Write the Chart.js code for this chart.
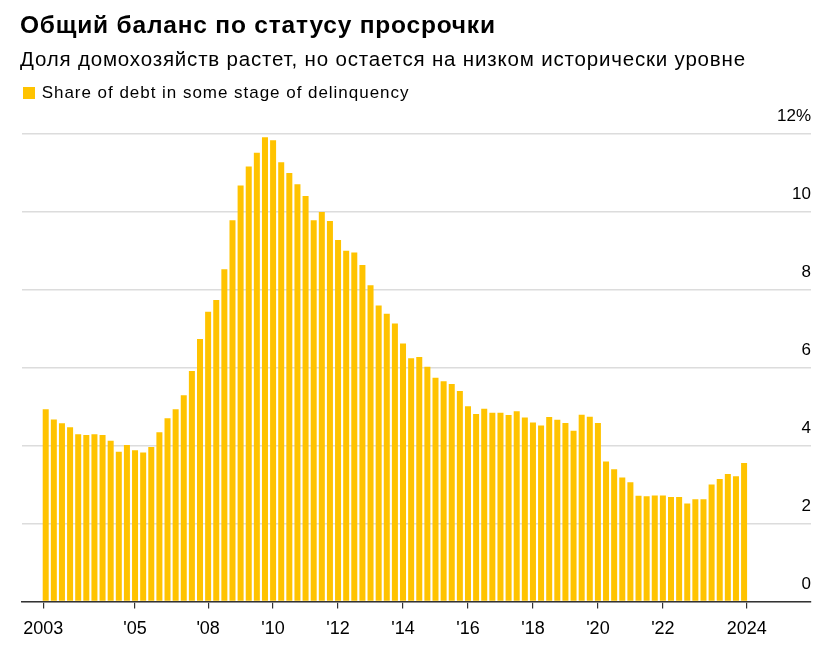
<!DOCTYPE html>
<html>
<head>
<meta charset="utf-8">
<script src="https://cdn.jsdelivr.net/npm/chart.js@4.4.1/dist/chart.umd.min.js"></script>
<style>
  body { margin: 0; background: #fff; }
  #wrap { position: relative; width: 836px; height: 649px; font-family: "Liberation Sans", Arial, sans-serif; color: #000; }
  #chart { position: absolute; left: 0; top: 0; }
  .title { position: absolute; left: 20px; top: 12.5px; font-size: 24.5px; line-height: 24px; font-weight: bold; letter-spacing: 0.8px; white-space: nowrap; }
  .subtitle { position: absolute; left: 20px; top: 48.8px; font-size: 20.5px; line-height: 20px; letter-spacing: 0.82px; white-space: nowrap; }
  #legend { position: absolute; left: 22.7px; top: 83.9px; font-size: 17px; line-height: 17px; letter-spacing: 0.97px; white-space: nowrap; }
  #legend .box { display: inline-block; width: 12px; height: 12px; margin-right: 7px; vertical-align: -1px; }
</style>
</head>
<body>
<div id="wrap">
  <canvas id="chart" width="836" height="649"></canvas>
  <div class="title">Общий баланс по статусу просрочки</div>
  <div class="subtitle">Доля домохозяйств растет, но остается на низком исторически уровне</div>
  <div id="legend"></div>
</div>
<script>
// квартальные данные, 2003 Q1 - 2024 Q3
const startYear = 2003;
const seriesName = "Share of debt in some stage of delinquency";
const delinquency = [
  4.93, 4.67, 4.57, 4.47, 4.29, 4.27, 4.29, 4.27, 4.12, 3.84, 4.01, 3.88, 3.82, 3.96, 4.34, 4.70, 4.93, 5.29,
  5.91, 6.73, 7.43, 7.73, 8.52, 9.78, 10.67, 11.16, 11.51, 11.91, 11.83, 11.27, 10.99, 10.70, 10.40, 9.78,
  9.99, 9.76, 9.27, 9.00, 8.95, 8.63, 8.11, 7.59,
  7.38, 7.13, 6.62, 6.24, 6.27, 6.02, 5.74, 5.65, 5.58, 5.40, 5.01, 4.81, 4.94, 4.84, 4.84, 4.78, 4.88,
  4.72, 4.59, 4.51, 4.73, 4.66, 4.58, 4.38, 4.79, 4.74, 4.58,
  3.59, 3.39, 3.18, 3.06, 2.71, 2.70, 2.72, 2.72, 2.68, 2.68, 2.51, 2.62, 2.62, 3.00, 3.14, 3.27, 3.21, 3.55
];
// подписи оси x (положения в годах, как на исходном графике)
const tickYears = [2002.925, 2005.75, 2008, 2010, 2012, 2014, 2016, 2018, 2020, 2022, 2024.58];
const tickLabels = ["2003", "'05", "'08", "'10", "'12", "'14", "'16", "'18", "'20", "'22", "2024"];
const yTicks = [0, 2, 4, 6, 8, 10, 12];

const barColor = "#ffc300";
const points = delinquency.map((v, i) => ({ x: startYear + i / 4, y: v }));

const ctx = document.querySelector("#chart").getContext("2d");
const chart = new Chart(ctx, {
  type: "bar",
  data: {
    datasets: [
      {
        label: seriesName,
        data: points,
        backgroundColor: barColor,
        borderWidth: 0,
        barPercentage: 0.74,
        categoryPercentage: 1,
      },
    ],
  },
  options: {
    responsive: false,
    animation: false,
    layout: { padding: { left: 22, right: 25, top: 133.7, bottom: 0 } },
    plugins: {
      legend: { display: false },
      tooltip: { enabled: false },
    },
    scales: {
      x: {
        type: "linear",
        offset: false,
        min: 2002.27,
        max: 2026.56,
        afterBuildTicks: (scale) => {
          scale.ticks = tickYears.map((v) => ({ value: v }));
        },
        ticks: {
          autoSkip: false,
          maxRotation: 0,
          padding: 9.5,
          color: "#000",
          font: { family: "Liberation Sans", size: 18 },
          callback: (value, index) => tickLabels[index],
        },
        grid: { offset: false, drawOnChartArea: false, tickLength: 7, color: "#333", lineWidth: 1.2 },
        border: { color: "#333", width: 1.5 },
      },
      y: {
        position: "right",
        min: 0,
        max: 12,
        afterBuildTicks: (scale) => {
          scale.ticks = yTicks.map((v) => ({ value: v }));
        },
        ticks: {
          mirror: true,
          padding: 0,
          labelOffset: -17,
          color: "#000",
          font: { family: "Liberation Sans", size: 17 },
          callback: (value) => (value === 12 ? "12%" : value),
        },
        grid: { color: "#dcdcdc", lineWidth: 1.5, drawTicks: false },
        border: { display: false },
      },
    },
  },
});

// легенда
const legend = document.querySelector("#legend");
chart.data.datasets.forEach((ds) => {
  legend.innerHTML += '<span class="box" style="background:' + ds.backgroundColor + '"></span>' + ds.label;
});
</script>
</body>
</html>
